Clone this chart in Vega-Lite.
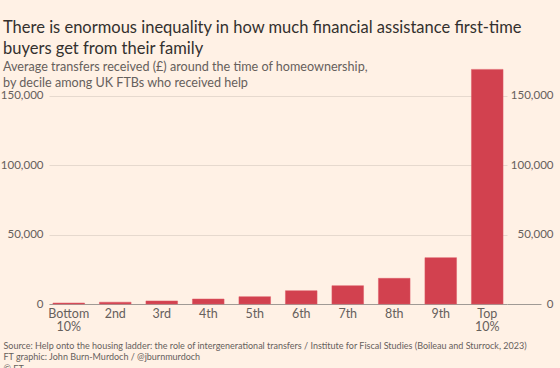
{
  "$schema": "https://vega.github.io/schema/vega-lite/v6.json",
  "autosize": {"type": "none"},
  "width": 458,
  "height": 236,
  "padding": {"left": 49, "top": 68, "right": 53, "bottom": 64},
  "background": "#fff1e5",
  "title": {
    "text": ["There is enormous inequality in how much financial assistance first-time", "buyers get from their family"],
    "subtitle": ["Average transfers received (£) around the time of homeownership,", "by decile among UK FTBs who received help"],
    "anchor": "start",
    "frame": "group",
    "dx": -46,
    "offset": -22,
    "font": "Lato",
    "fontSize": 16.5,
    "fontWeight": "normal",
    "color": "#33302e",
    "lineHeight": 21,
    "subtitleFont": "Lato",
    "subtitleFontSize": 12.6,
    "subtitleColor": "#66605c",
    "subtitleLineHeight": 16,
    "subtitlePadding": 4
  },
  "data": {
    "values": [
      {"decile": "Bottom 10%", "transfer": 700},
      {"decile": "2nd", "transfer": 1300},
      {"decile": "3rd", "transfer": 2200},
      {"decile": "4th", "transfer": 3600},
      {"decile": "5th", "transfer": 5300},
      {"decile": "6th", "transfer": 9600},
      {"decile": "7th", "transfer": 13200},
      {"decile": "8th", "transfer": 18500},
      {"decile": "9th", "transfer": 33400},
      {"decile": "Top 10%", "transfer": 169000}
    ]
  },
  "layer": [
    {
      "mark": {"type": "bar", "color": "#d2414f", "stroke": "#dc5a66", "strokeWidth": 0.5},
      "encoding": {
        "x": {
          "field": "decile", "type": "nominal", "sort": null,
          "scale": {"paddingInner": 0.32, "paddingOuter": 0.085},
          "axis": {
            "orient": "bottom",
            "labelAngle": 0,
            "labelExpr": "datum.label == 'Bottom 10%' ? ['Bottom', '10%'] : datum.label == 'Top 10%' ? ['Top', '10%'] : datum.label",
            "labelFont": "Lato",
            "labelFontSize": 12.5,
            "labelColor": "#66605c",
            "labelLineHeight": 13.5,
            "labelPadding": 3,
            "labelOverlap": false,
            "ticks": false,
            "domainColor": "#a09a95",
            "domainWidth": 1,
            "title": ["Source: Help onto the housing ladder: the role of intergenerational transfers / Institute for Fiscal Studies (Boileau and Sturrock, 2023)", "FT graphic: John Burn-Murdoch / @jburnmurdoch", "© FT"],
            "titleFont": "Lato",
            "titleFontSize": 9,
            "titleFontWeight": "normal",
            "titleColor": "#66605c",
            "titleLineHeight": 11.5,
            "titleAnchor": "start",
            "titleAlign": "left",
            "titleBaseline": "top",
            "titleX": -46,
            "titleY": 37
          }
        },
        "y": {
          "field": "transfer", "type": "quantitative",
          "scale": {"domain": [0, 170000], "nice": false},
          "axis": {
            "orient": "left",
            "values": [0, 50000, 100000, 150000],
            "format": ",d",
            "title": null,
            "grid": true,
            "gridColor": "#e6d9ce",
            "domain": false,
            "ticks": false,
            "labelPadding": 6,
            "labelFont": "Lato",
            "labelFontSize": 11.5,
            "labelColor": "#66605c"
          }
        }
      }
    },
    {
      "mark": {"type": "bar", "opacity": 0},
      "encoding": {
        "x": {"field": "decile", "type": "nominal", "sort": null},
        "y": {
          "field": "transfer", "type": "quantitative",
          "scale": {"domain": [0, 170000], "nice": false},
          "axis": {
            "orient": "right",
            "values": [0, 50000, 100000, 150000],
            "format": ",d",
            "title": null,
            "grid": false,
            "domain": false,
            "ticks": true,
            "tickSize": 34,
            "tickColor": {"condition": {"test": "datum.value === 0", "value": "#a09a95"}, "value": "transparent"},
            "labelAlign": "right",
            "labelPadding": 12,
            "labelFont": "Lato",
            "labelFontSize": 11.5,
            "labelColor": "#66605c"
          }
        }
      }
    }
  ],
  "resolve": {"scale": {"y": "independent"}, "axis": {"y": "independent"}},
  "config": {"view": {"stroke": null}}
}
